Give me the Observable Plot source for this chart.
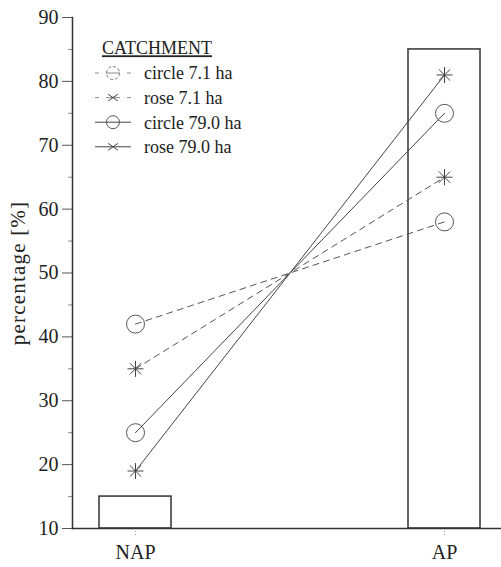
<!DOCTYPE html>
<html>
<head>
<meta charset="utf-8">
<script src="https://cdn.jsdelivr.net/npm/d3@7"></script>
<script src="https://cdn.jsdelivr.net/npm/@observablehq/plot@0.6"></script>
<style>
  html, body { margin: 0; padding: 0; background: #fff; }
  #chart { width: 501px; height: 567px; }
</style>
</head>
<body>
<div id="chart"></div>
<script>
const categories = ["NAP", "AP"];
const barValues = [15, 85];
const seriesNames = ["circle 7.1 ha", "rose 7.1 ha", "circle 79.0 ha", "rose 79.0 ha"];
const seriesShapes = ["circle", "rose", "circle", "rose"];
const seriesDashed = [true, true, false, false];
const napValues = [42, 35, 25, 19];
const apValues = [58, 65, 75, 81];
const majorTicks = [10, 20, 30, 40, 50, 60, 70, 80, 90];
const minorTicks = [15, 25, 35, 45, 55, 65, 75, 85];
const legendTitle = "CATCHMENT";
const yLabel = "percentage [%]";

const bars = categories.map((c, i) => ({cat: c, value: barValues[i]}));
const points = [];
seriesNames.forEach((s, i) => {
  points.push({series: s, cat: "NAP", value: napValues[i], shape: seriesShapes[i], dashed: seriesDashed[i]});
  points.push({series: s, cat: "AP", value: apValues[i], shape: seriesShapes[i], dashed: seriesDashed[i]});
});

const asterisk = {
  draw(ctx, size) {
    const r = Math.sqrt(size / Math.PI);
    for (let k = 0; k < 4; k++) {
      const a = k * Math.PI / 4;
      ctx.moveTo(r * Math.cos(a), r * Math.sin(a));
      ctx.lineTo(-r * Math.cos(a), -r * Math.sin(a));
    }
  }
};
const legendCross = (ctx, r) => {
  const a = 35 * Math.PI / 180;
  ctx.moveTo(r * Math.cos(a), r * Math.sin(a)); ctx.lineTo(-r * Math.cos(a), -r * Math.sin(a));
  ctx.moveTo(r * Math.cos(a), -r * Math.sin(a)); ctx.lineTo(-r * Math.cos(a), r * Math.sin(a));
};

const ink = "#333";
const FONT = "'Liberation Serif', 'Times New Roman', serif";

const plot = Plot.plot({
  width: 501,
  height: 567,
  marginLeft: 72,
  marginRight: 0,
  marginTop: 17,
  marginBottom: 39,
  style: {fontFamily: FONT, fontSize: "20px", color: ink, background: "#fff"},
  x: {type: "band", domain: categories, paddingInner: 0.7674, paddingOuter: 0.0768, align: 0.568, axis: null},
  y: {domain: [10, 90], axis: null},
  marks: [
    Plot.barY(bars, {x: "cat", y1: 10, y2: "value", fill: "none", stroke: ink, strokeWidth: 1.5}),
    Plot.axisY({ticks: majorTicks, tickSize: 10, tickPadding: 4, fontSize: 20, label: null, stroke: "#555", fill: "#222"}),
    Plot.axisY({ticks: minorTicks, tickSize: 4, text: null, label: null, stroke: "#888"}),
    Plot.axisX({tickSize: 8, tickPadding: 8, fontSize: 20, label: null, stroke: "#999", strokeDasharray: "1,2", fill: "#222"}),
    Plot.frame({anchor: "left", stroke: ink, strokeWidth: 1.5}),
    Plot.frame({anchor: "bottom", stroke: ink, strokeWidth: 1.5}),
    Plot.line(points.filter(d => d.dashed), {x: "cat", y: "value", z: "series", stroke: "#555", strokeWidth: 1, strokeDasharray: "6,5"}),
    Plot.line(points.filter(d => !d.dashed), {x: "cat", y: "value", z: "series", stroke: "#444", strokeWidth: 1}),
    Plot.dot(points.filter(d => d.shape === "circle"), {x: "cat", y: "value", r: 9, stroke: "#555", strokeWidth: 1, fill: "none"}),
    Plot.dot(points.filter(d => d.shape === "rose"), {x: "cat", y: "value", r: 8, symbol: asterisk, stroke: "#444", strokeWidth: 1}),
    Plot.text([yLabel], {frameAnchor: "left", textAnchor: "middle", rotate: -90, dx: -54, fontSize: 21, fill: "#222"})
  ]
});

const svg = d3.select(plot);
svg.selectAll("text").filter(function() { return this.textContent === yLabel; })
  .attr("letter-spacing", "1.2px");

// Legend drawn inside the plot area
const lg = svg.append("g").attr("fill", "#222").attr("text-anchor", "start");
const addText = (x, y, s) => lg.append("text").attr("x", x).attr("y", y).attr("dy", "0.35em")
  .style("font-family", FONT).style("font-size", "18px").text(s);
addText(102, 48, legendTitle).attr("text-decoration", "underline");
seriesNames.forEach((name, i) => {
  const cy = 73 + i * 24.6;
  if (seriesDashed[i]) {
    lg.append("line").attr("x1", 95).attr("x2", 131).attr("y1", cy).attr("y2", cy)
      .attr("stroke", "#888").attr("stroke-width", 1).attr("stroke-dasharray", "4,7,14,7");
  } else {
    lg.append("line").attr("x1", 95).attr("x2", 131).attr("y1", cy).attr("y2", cy)
      .attr("stroke", "#444").attr("stroke-width", 1);
  }
  if (seriesShapes[i] === "circle") {
    lg.append("circle").attr("cx", 113).attr("cy", cy).attr("r", 6.5)
      .attr("fill", "none").attr("stroke", seriesDashed[i] ? "#777" : "#555")
      .attr("stroke-dasharray", seriesDashed[i] ? "3,2" : null);
  } else {
    const p = d3.path();
    legendCross(p, 6);
    lg.append("path").attr("d", p.toString()).attr("transform", `translate(113,${cy})`).attr("stroke", "#444");
  }
  addText(144, cy, name);
});

document.getElementById("chart").appendChild(plot);
</script>
</body>
</html>
